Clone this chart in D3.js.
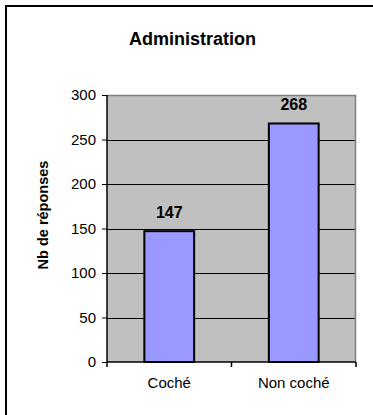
<!DOCTYPE html>
<html><head><meta charset="utf-8">
<script src="https://cdn.jsdelivr.net/npm/d3@7"></script>
<style>html,body{margin:0;padding:0;background:#fff;}svg{display:block;font-family:"Liberation Sans",Arial,sans-serif;}</style>
</head><body>
<svg id="c" width="373" height="415"></svg>
<script>
const categories = ["Coché", "Non coché"];
const values = [147, 268];
const yTicks = [0, 50, 100, 150, 200, 250, 300];
const title = "Administration";
const yTitle = "Nb de réponses";

const svg = d3.select("#c");
const m = {left: 107, right: 356, top: 95, bottom: 362};

// outer frame (extends beyond image on right/bottom)
svg.append("rect").attr("x", 6).attr("y", 6).attr("width", 400).attr("height", 450)
  .attr("fill", "#fff").attr("stroke", "#000").attr("stroke-width", 2);

const x = d3.scaleBand().domain(categories).range([m.left, m.right]).paddingInner(0.6).paddingOuter(0.3);
const y = d3.scaleLinear().domain([0, 300]).range([m.bottom, m.top]);

// plot background
svg.append("rect").attr("x", m.left).attr("y", m.top).attr("width", m.right - m.left).attr("height", m.bottom - m.top)
  .attr("fill", "#c0c0c0");

// gridlines
svg.append("g").selectAll("line").data(yTicks.filter(t => t > 0 && t < 300)).join("line")
  .attr("x1", m.left).attr("x2", m.right)
  .attr("y1", d => Math.round(y(d)) + 0.5).attr("y2", d => Math.round(y(d)) + 0.5)
  .attr("stroke", "#000").attr("stroke-width", 1);

// plot border top/right gray
svg.append("path").attr("d", `M${m.left},${m.top + 0.5}H${m.right - 0.5}V${m.bottom}`)
  .attr("fill", "none").attr("stroke", "#808080").attr("stroke-width", 1.5);

// bars
svg.append("g").selectAll("rect").data(values).join("rect")
  .attr("x", (d, i) => x(categories[i]))
  .attr("y", d => y(d))
  .attr("width", x.bandwidth())
  .attr("height", d => y(0) - y(d))
  .attr("fill", "#9999ff").attr("stroke", "#000").attr("stroke-width", 2);

// value labels
svg.append("g").selectAll("text").data(values).join("text")
  .attr("x", (d, i) => x(categories[i]) + x.bandwidth() / 2)
  .attr("y", d => y(d) - 13)
  .attr("text-anchor", "middle").attr("font-weight", "bold").attr("font-size", 16)
  .text(d => d);

// y axis
const yAxis = d3.axisLeft(y).tickValues(yTicks).tickSize(5).tickPadding(6);
const gy = svg.append("g").attr("transform", `translate(${m.left},0)`).call(yAxis);
gy.select(".domain").attr("stroke", "#000").attr("stroke-width", 1.5).attr("d", `M0,${m.top}V${m.bottom}`);
gy.selectAll("text").attr("font-size", 15).attr("font-family", "Liberation Sans, Arial, sans-serif").attr("fill", "#000");

// x axis
const xAxis = d3.axisBottom(x).tickSize(0).tickPadding(15);
const gx = svg.append("g").attr("transform", `translate(0,${m.bottom})`).call(xAxis);
gx.select(".domain").attr("stroke", "#000").attr("stroke-width", 1.5).attr("d", `M${m.left},0H${m.right}`);
gx.selectAll("text").attr("font-size", 15).attr("font-family", "Liberation Sans, Arial, sans-serif").attr("fill", "#000");
// separator ticks between categories
const sepPos = [m.left, (x(categories[0]) + x.bandwidth() + x(categories[1])) / 2, m.right];
gx.append("g").selectAll("line").data(sepPos).join("line")
  .attr("x1", d => d).attr("x2", d => d).attr("y1", 0).attr("y2", 5)
  .attr("stroke", "#000").attr("stroke-width", 1.5);

// title
svg.append("text").attr("x", 192.5).attr("y", 45).attr("text-anchor", "middle")
  .attr("font-weight", "bold").attr("font-size", 18).text(title);

// y title
svg.append("text").attr("transform", "translate(48,215) rotate(-90)").attr("text-anchor", "middle")
  .attr("font-weight", "bold").attr("font-size", 14.5).text(yTitle);
</script>
</body></html>
